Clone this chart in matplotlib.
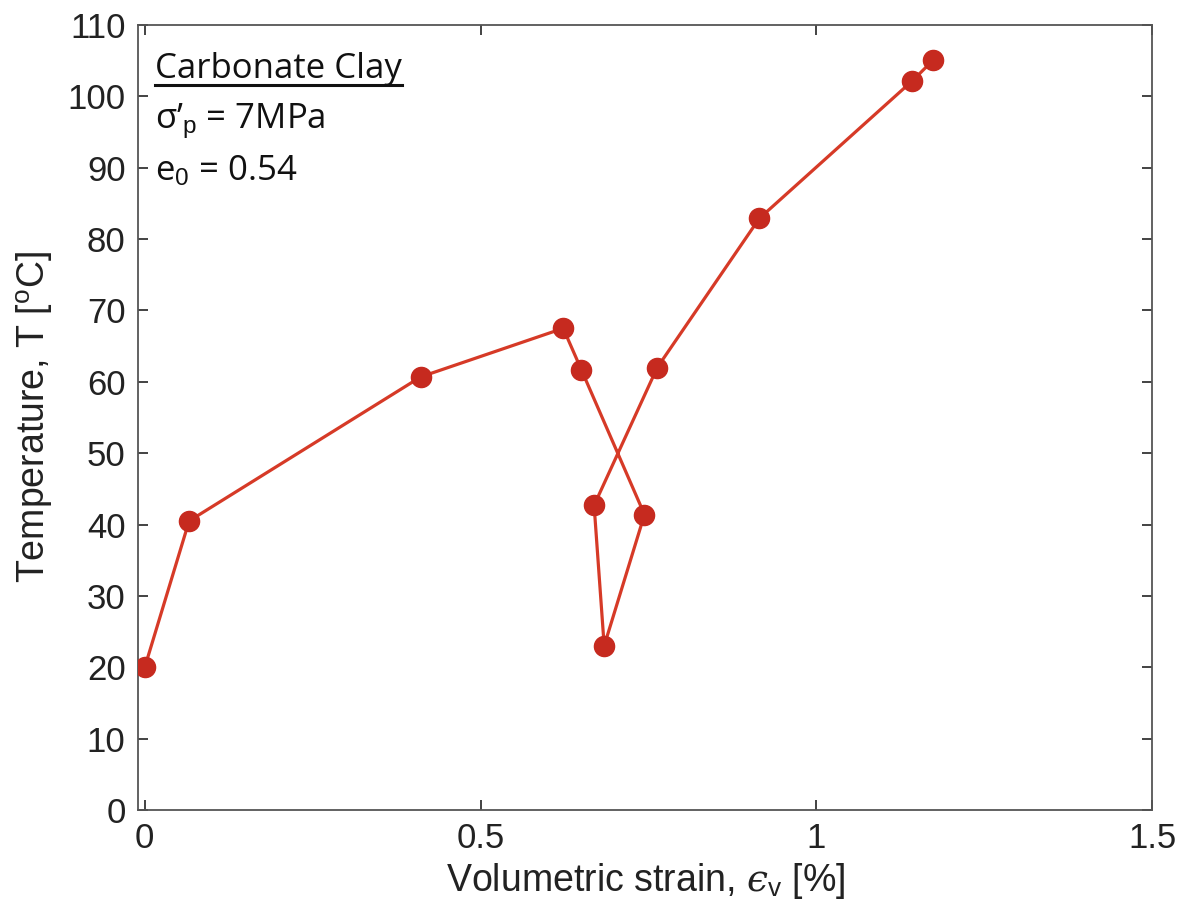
import matplotlib
matplotlib.use("Agg")
import matplotlib.pyplot as plt

strain = [0.0, 0.066, 0.411, 0.623, 0.650, 0.744, 0.684, 0.669, 0.763, 0.915, 1.143, 1.174]
temperature = [20.0, 40.5, 60.7, 67.5, 61.7, 41.4, 23.0, 42.7, 62.0, 82.9, 102.2, 105.1]
xticks = [0, 0.5, 1, 1.5]
xticklabels = ["0", "0.5", "1", "1.5"]
yticks = list(range(0, 111, 10))

plt.rcParams['font.family'] = ['Liberation Sans', 'DejaVu Sans']
plt.rcParams['mathtext.fontset'] = 'custom'
plt.rcParams['mathtext.rm'] = 'Liberation Sans'
plt.rcParams['mathtext.it'] = 'DejaVu Serif:italic'

fig = plt.figure(figsize=(11.83, 9.17), dpi=100)
ax = fig.add_axes([0.1167, 0.1167, 0.974 - 0.1167, 0.9727 - 0.1167])

ax.plot(strain, temperature, '-', color='#d63a27', lw=2.3, zorder=2)
ax.plot(strain, temperature, 'o', color='#c62a1f', ms=14.5, mec='#c62a1f', zorder=3)

ax.set_xlim(-0.01, 1.5)
ax.set_ylim(0, 110)
ax.set_xticks(xticks)
ax.set_xticklabels(xticklabels)
ax.set_yticks(yticks)
ax.tick_params(direction='in', length=7, width=1.2, top=True, right=True,
               labelsize=25, colors='#222222', pad=9)
for s in ax.spines.values():
    s.set_color('#555555')
    s.set_linewidth(1.3)

ax.set_xlabel('Volumetric strain, $\u03f5_{\\rm v}$ [%]', fontsize=27, color='#222222', labelpad=4)
ax.set_ylabel(r'Temperature, T [$^{\rm o}$C]', fontsize=27, color='#222222', labelpad=10)

tfam = ['Open Sans', 'DejaVu Sans']
t1 = ax.text(155 / 1183, 1 - 78 / 917, 'Carbonate Clay', transform=fig.transFigure,
             fontsize=25, family=tfam, color='#111111', va='baseline')
ax.text(155 / 1183, 1 - 128 / 917, r"σ’$_{\rm p}$ = 7MPa", transform=fig.transFigure,
        fontsize=25, family=tfam, color='#111111', va='baseline')
ax.text(155 / 1183, 1 - 180 / 917, r"e$_{\rm 0}$ = 0.54", transform=fig.transFigure,
        fontsize=25, family=tfam, color='#111111', va='baseline')

fig.canvas.draw()
bb = t1.get_window_extent(renderer=fig.canvas.get_renderer())
inv = fig.transFigure.inverted()
(x0, y0), (x1, y1) = inv.transform([(bb.x0, bb.y0), (bb.x1, bb.y1)])
uy = 1 - 85 / 917
fig.add_artist(plt.Line2D([x0, x1], [uy, uy], transform=fig.transFigure, color='#111111', lw=2.2))

fig.savefig('out.png', dpi=100)
